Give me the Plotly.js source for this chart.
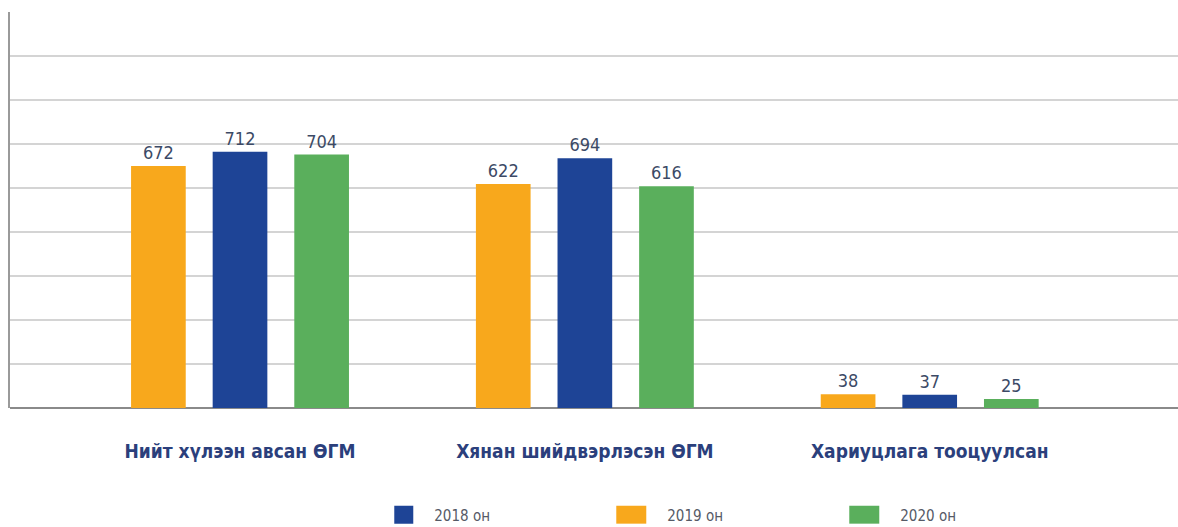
<!DOCTYPE html>
<html>
<head>
<meta charset="utf-8">
<script src="https://cdn.plot.ly/plotly-3.0.1.min.js"></script>
<style>
html,body{margin:0;padding:0;background:#fff;}
#chart{width:1178px;height:527px;}
#chart svg text{font-stretch:condensed !important;}
#chart .legendpoints path{transform:translate(4px,0px) scale(2.5,1.5) !important;}
</style>
</head>
<body>
<div id="chart"></div>
<script>
const categories = ["Нийт хүлээн авсан ӨГМ", "Хянан шийдвэрлэсэн ӨГМ", "Хариуцлага тооцуулсан"];
const values2019 = [672, 622, 38];
const values2018 = [712, 694, 37];
const values2020 = [704, 616, 25];
const seriesNames = ["2018 он", "2019 он", "2020 он"];

const fam = "DejaVu Sans, sans-serif";
const labelFont = {family: fam, size: 18, color: "#3c4a66"};

function barTrace(name, vals, color, rank) {
  return {
    type: "bar", name: name, x: categories, y: vals,
    marker: {color: color, line: {width: 0}},
    text: vals.map(String), textposition: "outside", textfont: labelFont,
    cliponaxis: false, legendrank: rank, hoverinfo: "x+y+name"
  };
}

const data = [
  barTrace(seriesNames[1], values2019, "#F8A81C", 2),
  barTrace(seriesNames[0], values2018, "#1E4496", 1),
  barTrace(seriesNames[2], values2020, "#5AAF5C", 3)
];

const layout = {
  width: 1178, height: 527,
  margin: {l: 10, r: 0, t: 12, b: 119, autoexpand: false},
  paper_bgcolor: "#fff", plot_bgcolor: "#fff",
  barmode: "group", bargap: 0.29, bargroupgap: 0.33,
  showlegend: true,
  legend: {
    orientation: "h", x: 0.329, xanchor: "left", y: -0.27, yanchor: "middle",
    entrywidth: 188, entrywidthmode: "pixels",
    font: {family: fam, size: 15, color: "#555a66"}
  },
  xaxis: {
    type: "category", range: [-0.667, 2.72],
    showgrid: false, zeroline: false, showline: false,
    ticks: "outside", ticklen: 26, tickcolor: "rgba(0,0,0,0)",
    tickfont: {family: fam, size: 19, color: "#2b3f7c", weight: "bold"}
  },
  yaxis: {
    range: [0, 1100], dtick: 122.222, tick0: 0,
    showticklabels: false, ticks: "",
    showgrid: true, gridcolor: "#d4d4d4", gridwidth: 2,
    zeroline: true, zerolinecolor: "#8a8a8a", zerolinewidth: 2,
    showline: true, linecolor: "#9a9a9a", linewidth: 2, mirror: false
  }
};

Plotly.newPlot("chart", data, layout, {displayModeBar: false, staticPlot: true});
</script>
</body>
</html>
